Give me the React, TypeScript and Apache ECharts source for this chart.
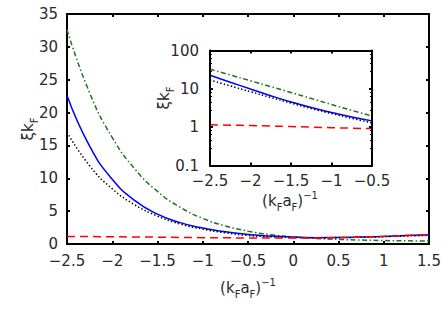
import React, { useEffect, useRef } from "react";
import * as echarts from "echarts";

const xValues = [-2.5, -2.25, -2, -1.75, -1.5, -1.25, -1, -0.75, -0.5, -0.25, 0, 0.25, 0.5, 0.75, 1, 1.25, 1.5];
const blueValues = [22.6, 14.9, 9.85, 6.6, 4.55, 3.25, 2.42, 1.85, 1.46, 1.2, 1.04, 0.97, 0.98, 1.05, 1.15, 1.28, 1.4];
const blackValues = [17, 11.9, 8.4, 5.95, 4.25, 3.05, 2.27, 1.7, 1.3, 1.1, 1.0, 0.96, 0.98, 1.03, 1.12, 1.22, 1.3];
const greenValues = [32.6, 23.0, 16.2, 11.4, 8.0, 5.6, 3.9, 2.75, 1.95, 1.42, 1.07, 0.85, 0.7, 0.6, 0.53, 0.48, 0.45];
const redValues = [1.15, 1.13, 1.1, 1.07, 1.04, 1.0, 0.97, 0.94, 0.92, 0.9, 0.9, 0.92, 0.98, 1.07, 1.18, 1.3, 1.42];
const insetXMax = -0.5;
const logTickLabels = ["0.1", "1", "10", "100"];

const FONT = "DejaVu Sans";
const TXT = "#2a2a2a";

const fmtMinus = (v: number) => String(v).replace("-", "\u2212");

function pairs(vals: number[], maxX?: number) {
  const out: number[][] = [];
  xValues.forEach((x, i) => {
    if (maxX === undefined || x <= maxX + 1e-9) out.push([x, vals[i]]);
  });
  return out;
}

export default function App() {
  const ref = useRef<HTMLDivElement>(null);
  useEffect(() => {
    if (!ref.current) return;
    const chart = echarts.init(ref.current, undefined, { renderer: "svg" });

    const tick = { show: true, inside: true, length: 3, lineStyle: { color: "#000", width: 2 } };
    const line = { show: true, onZero: false, lineStyle: { color: "#000", width: 2 } };
    const lbl = { color: TXT, fontFamily: FONT, fontSize: 15 };

    const styles = [
      { name: "green", data: greenValues, color: "#1c761c", type: [5, 2.5, 1.5, 2.5] },
      { name: "blue", data: blueValues, color: "#0000ff", type: "solid" },
      { name: "black", data: blackValues, color: "#000000", type: [1.4, 2.2] },
      { name: "red", data: redValues, color: "#ff0000", type: [8, 5] },
    ];

    const series: any[] = [];
    styles.forEach((s) => {
      series.push({
        type: "line",
        xAxisIndex: 0,
        yAxisIndex: 0,
        data: pairs(s.data),
        smooth: true,
        showSymbol: false,
        lineStyle: { color: s.color, width: 1.5, type: s.type as any },
        z: 3,
      });
      series.push({
        type: "line",
        xAxisIndex: 2,
        yAxisIndex: 2,
        data: pairs(s.data, insetXMax),
        smooth: true,
        showSymbol: false,
        lineStyle: { color: s.color, width: 1.5, type: s.type as any },
        z: 10,
      });
    });

    const sub = { fontSize: 10, lineHeight: 10, verticalAlign: "bottom", fontFamily: FONT, fill: TXT };
    const sup = { fontSize: 10, lineHeight: 10, verticalAlign: "top", fontFamily: FONT, fill: TXT };
    const base = { fontSize: 15, lineHeight: 22, verticalAlign: "middle", fontFamily: FONT, fill: TXT };

    const option: any = {
      animation: false,
      grid: [
        { left: 67, right: 18, top: 14, bottom: 69, show: false },
        { left: 210, top: 50.5, width: 162, height: 115, show: true, backgroundColor: "#fff", borderWidth: 0, z: 5 },
      ],
      xAxis: [
        {
          type: "value", gridIndex: 0, min: -2.5, max: 1.5, interval: 0.5,
          axisLine: line, axisTick: tick, splitLine: { show: false },
          axisLabel: { ...lbl, margin: 9, formatter: fmtMinus },
        },
        {
          type: "value", gridIndex: 0, position: "top", min: -2.5, max: 1.5, interval: 0.5,
          axisLine: line, axisTick: tick, splitLine: { show: false }, axisLabel: { show: false },
        },
        {
          type: "value", gridIndex: 1, min: -2.5, max: -0.5, interval: 0.5, z: 12,
          axisLine: line, axisTick: tick, splitLine: { show: false },
          axisLabel: { ...lbl, margin: 8, formatter: fmtMinus },
        },
        {
          type: "value", gridIndex: 1, position: "top", min: -2.5, max: -0.5, interval: 0.5, z: 12,
          axisLine: line, axisTick: tick, splitLine: { show: false }, axisLabel: { show: false },
        },
      ],
      yAxis: [
        {
          type: "value", gridIndex: 0, min: 0, max: 35, interval: 5,
          axisLine: line, axisTick: tick, splitLine: { show: false },
          axisLabel: { ...lbl, margin: 9 },
        },
        {
          type: "value", gridIndex: 0, position: "right", min: 0, max: 35, interval: 5,
          axisLine: line, axisTick: tick, splitLine: { show: false }, axisLabel: { show: false },
        },
        {
          type: "log", gridIndex: 1, min: 0.1, max: 100, logBase: 10, z: 12,
          axisLine: line, axisTick: tick, splitLine: { show: false },
          minorTick: { show: true, splitNumber: 5, length: 2, lineStyle: { color: "#000", width: 1 } },
          axisLabel: {
            ...lbl, margin: 11,
            formatter: (v: number) => logTickLabels[Math.round(Math.log10(v)) + 1] ?? String(v),
          },
        },
        {
          type: "log", gridIndex: 1, position: "right", min: 0.1, max: 100, logBase: 10, z: 12,
          axisLine: line, axisTick: tick, splitLine: { show: false },
          minorTick: { show: true, splitNumber: 5, length: 2, lineStyle: { color: "#000", width: 1 } },
          axisLabel: { show: false },
        },
      ],
      graphic: [
        {
          type: "text", x: 248, y: 288, z: 20,
          style: {
            text: "{b|(k}{s|F}{b|a}{s|F}{b|)}{p|\u22121}",
            align: "center", verticalAlign: "middle",
            rich: { b: base, s: sub, p: sup },
          },
        },
        {
          type: "text", x: 290, y: 201, z: 20,
          style: {
            text: "{b|(k}{s|F}{b|a}{s|F}{b|)}{p|\u22121}",
            align: "center", verticalAlign: "middle",
            rich: { b: base, s: sub, p: sup },
          },
        },
        {
          type: "text", x: 28, y: 129, rotation: Math.PI / 2, z: 20,
          style: {
            text: "{b|\u03bek}{s|F}",
            align: "center", verticalAlign: "middle",
            rich: { b: base, s: sub },
          },
        },
        {
          type: "text", x: 164, y: 98, rotation: Math.PI / 2, z: 20,
          style: {
            text: "{b|\u03bek}{s|F}",
            align: "center", verticalAlign: "middle",
            rich: { b: base, s: sub },
          },
        },
      ],
      series,
    };

    chart.setOption(option);
    return () => chart.dispose();
  }, []);

  return (
    <div
      ref={ref}
      style={{ position: "fixed", left: 0, top: 0, width: 447, height: 313, background: "#fff" }}
    />
  );
}
